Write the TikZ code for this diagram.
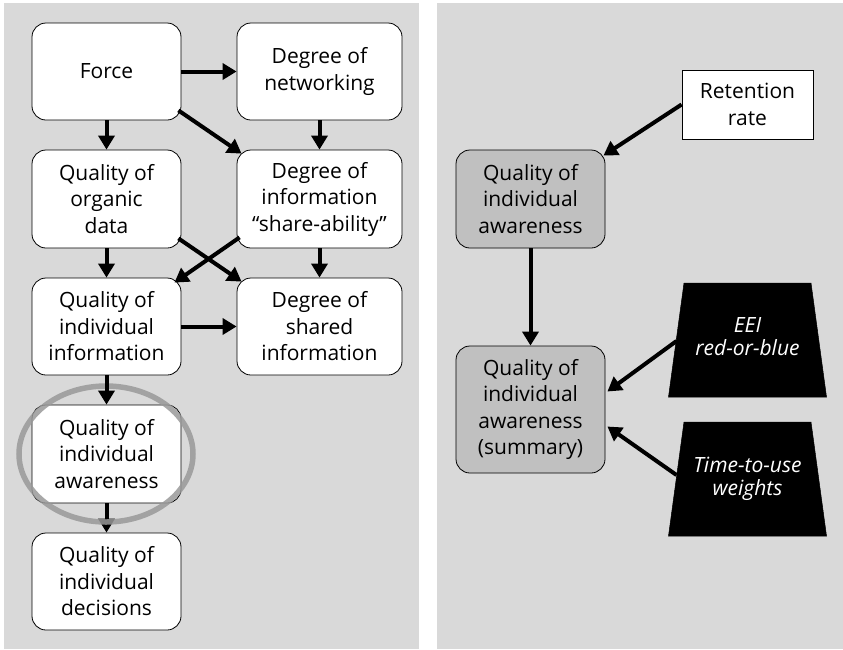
\documentclass[tikz,border=0pt]{standalone}
\usepackage{fontspec}
\setmainfont{Open Sans}
\usetikzlibrary{arrows.meta,shapes.geometric}
\definecolor{panelgray}{HTML}{D9D9D9}
\definecolor{boxgray}{HTML}{C0C0C0}
\definecolor{ringgray}{HTML}{999999}
\tikzset{
  flowbox/.style={draw=black, line width=0.8pt, fill=white, rounded corners=14pt,
    align=center, inner sep=0pt, font=\fontsize{21}{26.5}\selectfont},
  graybox/.style={flowbox, fill=boxgray},
  plainbox/.style={draw=black, line width=0.8pt, fill=white, align=center, inner sep=0pt,
    font=\fontsize{21}{26.5}\selectfont},
  traptext/.style={text=white, align=center, inner sep=0pt,
    font=\fontsize{21}{23}\selectfont\itshape},
  trapfill/.style={fill=black, draw=black, line width=0.5pt},
  arr/.style={-{Triangle[length=14pt,width=16pt]}, line width=4pt, black},
}
\begin{document}
\begin{tikzpicture}[x=1pt,y=-1pt]
\useasboundingbox (0,0) rectangle (843,649);
\fill[panelgray] (4,3) rectangle (419,649);
\fill[panelgray] (437,3) rectangle (843,649);

% left panel
\node[flowbox, minimum width=149pt, minimum height=97pt] (force) at (106.5,71.5) {Force};
\node[flowbox, minimum width=165pt, minimum height=97pt] (net) at (319.5,71.5) {Degree of\\networking};
\node[flowbox, minimum width=149pt, minimum height=98pt] (org) at (106.5,199) {Quality of\\organic\\data};
\node[flowbox, minimum width=165pt, minimum height=98pt] (share) at (319.5,199) {Degree of\\information\\“share-ability”};
\node[flowbox, minimum width=149pt, minimum height=97pt] (indinfo) at (106.5,326.5) {Quality of\\individual\\information};
\node[flowbox, minimum width=165pt, minimum height=97pt] (shared) at (319.5,326.5) {Degree of\\shared\\information};
\node[flowbox, minimum width=149pt, minimum height=98pt] (aware) at (106.5,454) {Quality of\\individual\\awareness};
\node[flowbox, minimum width=149pt, minimum height=97pt] (dec) at (106.5,581.5) {Quality of\\individual\\decisions};

\draw[arr] (force.east) -- (net.west);
\draw[arr] (force.south) -- (org.north);
\draw[arr] (net.south) -- (share.north);
\draw[arr] ([xshift=-3pt,yshift=10pt]force.south east) -- ([xshift=5pt,yshift=-4pt]share.north west);
\draw[arr] (org.south) -- (indinfo.north);
\draw[arr] (share.south) -- (shared.north);
\draw[arr] ([xshift=-3pt,yshift=10pt]org.south east) -- ([xshift=5pt,yshift=-4pt]shared.north west);
\draw[arr] ([xshift=3pt,yshift=11pt]share.south west) -- ([xshift=-7pt,yshift=-5pt]indinfo.north east);
\draw[arr] (indinfo.east) -- (shared.west);
\draw[arr] (aware.south) -- (dec.north);
\node[draw=ringgray, opacity=0.85, line width=5.5pt, ellipse, minimum width=174pt, minimum height=136pt, inner sep=0pt] (ring) at (106,454) {};
\draw[arr] (indinfo.south) -- (aware.north);

% right panel
\node[plainbox, minimum width=131pt, minimum height=69pt] (ret) at (747.5,104.5) {Retention\\rate};
\node[graybox, minimum width=149pt, minimum height=98pt] (raware) at (530.5,199) {Quality of\\individual\\awareness};
\node[graybox, minimum width=149pt, minimum height=127pt] (summ) at (530.5,409.5) {Quality of\\individual\\awareness\\(summary)};

\coordinate (eeic) at (747.5,340);
\coordinate (ttuc) at (747.5,479);
\fill[trapfill] ([shift={(-63.5,-57)}]eeic) -- ([shift={(63.5,-57)}]eeic) -- ([shift={(79,57)}]eeic) -- ([shift={(-79,57)}]eeic) -- cycle;
\fill[trapfill] ([shift={(-63.5,-57)}]ttuc) -- ([shift={(63.5,-57)}]ttuc) -- ([shift={(79,57)}]ttuc) -- ([shift={(-79,57)}]ttuc) -- cycle;
\coordinate (eeiw) at ([shift={(-71,1)}]eeic);
\coordinate (ttuw) at ([shift={(-71,-4)}]ttuc);
\node[traptext] (eei) at ([yshift=3pt]eeic) {EEI\\red-or-blue};
\node[traptext] (ttu) at (ttuc) {Time-to-use\\weights};

\draw[arr] (ret.west) -- ([xshift=-2pt,yshift=-6pt]raware.north east);
\draw[arr] (raware.south) -- (summ.north);
\draw[arr] (eeiw) -- ([xshift=2pt,yshift=18pt]summ.east);
\draw[arr] (ttuw) -- ([xshift=2pt,yshift=-17pt]summ.east);
\end{tikzpicture}
\end{document}
